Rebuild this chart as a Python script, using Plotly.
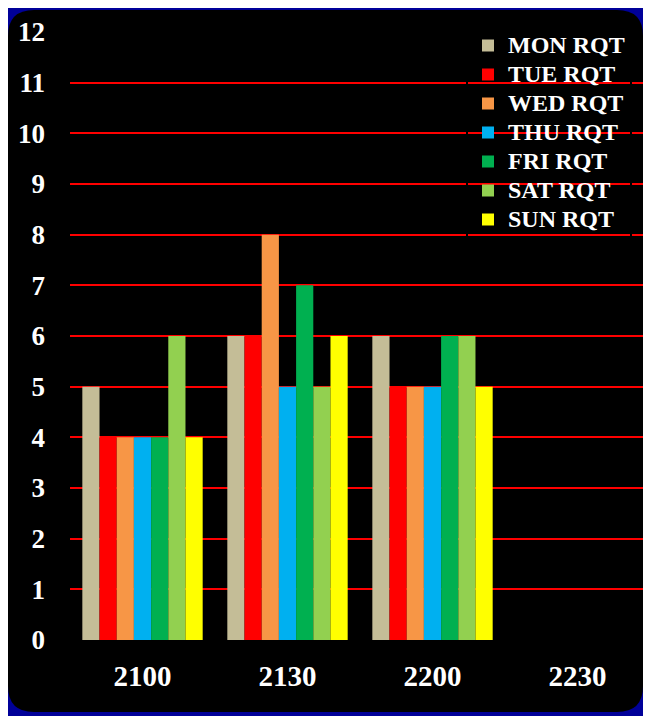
import plotly.graph_objects as go

categories = ["2100", "2130", "2200", "2230"]
series_names = ["MON RQT", "TUE RQT", "WED RQT", "THU RQT", "FRI RQT", "SAT RQT", "SUN RQT"]
mon = [5, 6, 6, None]
tue = [4, 6, 5, None]
wed = [4, 8, 5, None]
thu = [4, 5, 5, None]
fri = [4, 7, 6, None]
sat = [6, 5, 6, None]
sun = [4, 6, 5, None]
y_ticks = list(range(0, 13))

values = [mon, tue, wed, thu, fri, sat, sun]
colors = ["#C4BD97", "#FF0000", "#F79646", "#00B0F0", "#00B050", "#92D050", "#FFFF00"]

# the page places the figure 8px in from the top-left corner
OFF = 8
W, H = 651, 716
ML, MT = 70 - OFF, 32 - OFF
PW, PH = 580, 608
MR = W - ML - PW
MB = H - MT - PH

FONT = "Liberation Serif"

fig = go.Figure()
for name, vals, c in zip(series_names, values, colors):
    fig.add_trace(go.Bar(
        name=f'<span style="font-size:24px">{name}</span>',
        x=categories, y=vals, marker=dict(color=c, line=dict(width=0))))

# rounded black background panel (picture pixel -> paper coordinates)
def px(x):
    return (x - OFF - ML) / PW

def py(y):
    return (MT + PH - (y - OFF)) / PH

x0, x1, y0, y1, r = 8, 643, 10, 712, 26
path = (
    f"M {px(x0 + r)} {py(y0)} L {px(x1 - r)} {py(y0)} "
    f"Q {px(x1)} {py(y0)} {px(x1)} {py(y0 + r)} "
    f"L {px(x1)} {py(y1 - r)} Q {px(x1)} {py(y1)} {px(x1 - r)} {py(y1)} "
    f"L {px(x0 + r)} {py(y1)} Q {px(x0)} {py(y1)} {px(x0)} {py(y1 - r)} "
    f"L {px(x0)} {py(y0 + r)} Q {px(x0)} {py(y0)} {px(x0 + r)} {py(y0)} Z"
)
fig.add_shape(type="path", path=path, xref="paper", yref="paper",
              fillcolor="black", line=dict(width=0), layer="below")

fig.update_layout(
    width=W, height=H,
    margin=dict(l=ML, r=MR, t=MT, b=MB, pad=0),
    paper_bgcolor="#000099",
    plot_bgcolor="rgba(0,0,0,0)",
    barmode="group",
    bargap=0.17,
    bargroupgap=0,
    font=dict(family=FONT, color="white", size=24, weight="bold"),
    showlegend=True,
    legend=dict(
        x=px(466), y=py(24), xanchor="left", yanchor="top",
        bgcolor="rgba(0,0,0,0)", bordercolor="black", borderwidth=2,
        font=dict(family=FONT, size=20, color="white", weight="bold"),
        itemwidth=30,
    ),
    xaxis=dict(
        categoryorder="array", categoryarray=categories,
        showgrid=False, zeroline=False, showline=False,
        tickfont=dict(family=FONT, size=29, color="white", weight="bold"),
        ticklabelstandoff=16,
    ),
    yaxis=dict(
        range=[0, 12], tickvals=y_ticks,
        showgrid=True, gridcolor="#FF0000", gridwidth=2,
        zeroline=True, zerolinecolor="black", zerolinewidth=2,
        showline=False,
        tickfont=dict(family=FONT, size=27, color="white", weight="bold"),
        ticklabelstandoff=24,
    ),
)

fig.write_html("out.html")
